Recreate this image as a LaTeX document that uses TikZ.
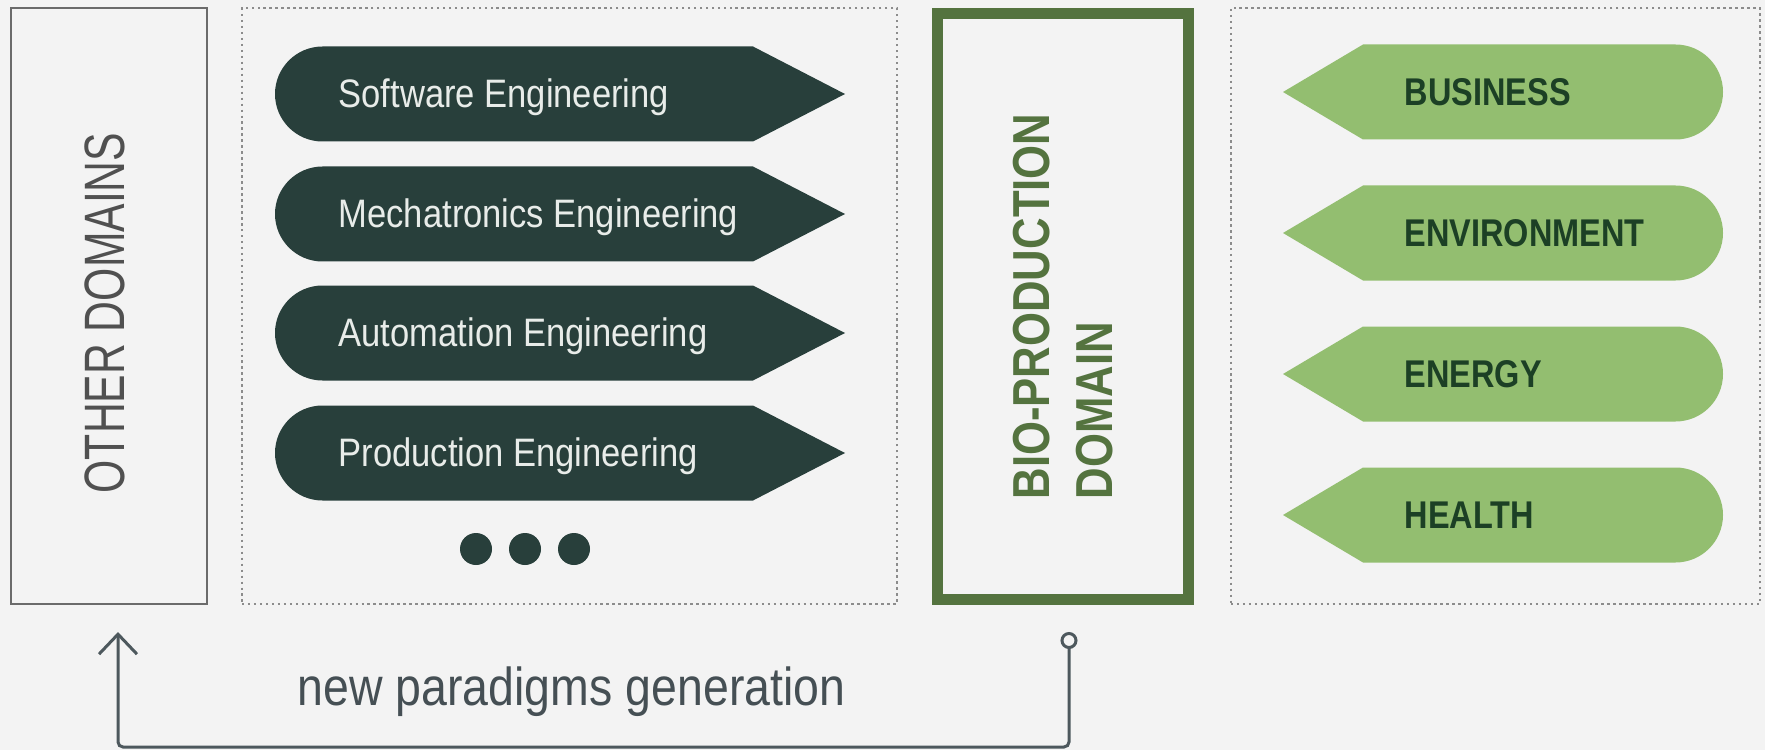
\documentclass[tikz,border=0pt]{standalone}
\usepackage{fontspec}
\setmainfont{Liberation Sans}
\newfontfamily\thinfont{Liberation Sans}[FakeStretch=0.87]
\newfontfamily\capsfont{Liberation Sans}[FakeStretch=0.75]
\newfontfamily\heavyfont{Liberation Sans}[FakeStretch=0.84]
\usetikzlibrary{arrows.meta}
\definecolor{bgcol}{HTML}{F3F3F3}
\definecolor{engfill}{HTML}{283F3B}
\definecolor{engtext}{HTML}{E8ECE9}
\definecolor{areafill}{HTML}{93BE70}
\definecolor{areatext}{HTML}{1C4025}
\definecolor{bioframe}{HTML}{54733F}
\definecolor{boxline}{HTML}{6B6B6B}
\definecolor{othertext}{HTML}{505050}
\definecolor{dotline}{HTML}{8C8C8C}
\definecolor{loopline}{HTML}{4D585D}
\tikzset{
  dotbox/.style={draw=dotline, line width=0.55pt, dash pattern=on 0.7pt off 1pt, minimum height=59.6mm},
  englabel/.style={anchor=base west, inner sep=0pt, text=engtext, font=\thinfont\fontsize{11.3}{13}\selectfont},
  arealabel/.style={anchor=base west, inner sep=0pt, text=areatext, font=\heavyfont\bfseries\fontsize{11}{13}\selectfont},
  feedback/.style={draw=loopline, line width=0.3mm, rounded corners=0.5mm,
    {Circle[open,length=1.7mm]}-{Straight Barb[length=2mm,width=3.8mm]}}
}

\begin{document}
\begin{tikzpicture}[x=0.1mm,y=-0.1mm]
  \useasboundingbox (0,0) rectangle (1765,750);
  \fill[bgcol] (0,0) rectangle (1765,750);
  % frames
  \node[draw=boxline, line width=0.7pt, rotate=90, minimum width=59.6mm, minimum height=19.6mm] (other) at (109,306) {};
  \node[rotate=90, inner sep=0pt, text=othertext, font=\capsfont\fontsize{16.2}{18}\selectfont]
    (othername) at (105,313) {OTHER DOMAINS};
  \node[dotbox, minimum width=65.5mm] (fields) at (569.5,306) {};
  \node[dotbox, minimum width=52.9mm] (areas) at (1495.5,306) {};
  \node[draw=bioframe, line width=3.1pt, rotate=90, minimum width=58.6mm, minimum height=25.1mm,
    align=left, text=bioframe, font=\heavyfont\bfseries\fontsize{14.8}{17.9}\selectfont]
    (bio) at (1063,306.5) {BIO-PRODUCTION\\DOMAIN};
  % engineering fields, pointing right
  \foreach \cy/\name/\txt in {94/soft/Software Engineering, 214/mech/Mechatronics Engineering,
      333/auto/Automation Engineering, 453/prod/Production Engineering} {
    \fill[engfill] (322.5,\cy-47.5) -- (753,\cy-47.5) -- (845,\cy) -- (753,\cy+47.5)
      -- (322.5,\cy+47.5) arc[start angle=90, end angle=270, radius=47.5] -- cycle;
    \node[englabel] (\name) at (338,\cy+13.5) {\txt};
  }
  \foreach \x in {476,525,574}
    \fill[engfill] (\x,549) circle[radius=16];
  % application areas, pointing left
  \foreach \cy/\name/\txt in {92/bus/BUSINESS, 233/env/ENVIRONMENT, 374/ener/ENERGY, 515/heal/HEALTH} {
    \fill[areafill] (1283,\cy) -- (1363,\cy-47.5) -- (1675.5,\cy-47.5)
      arc[start angle=-90, end angle=90, radius=47.5] -- (1363,\cy+47.5) -- cycle;
    \node[arealabel] (\name) at (1404,\cy+13.5) {\txt};
  }
  % feedback loop
  \coordinate (loopout) at (1069,632);
  \coordinate (loopin) at (118,632);
  \draw[feedback] (loopout) -- ++(0,115) -| (loopin);
  \node[anchor=base west, inner sep=0pt, text=loopline!90!black, font=\thinfont\fontsize{15.2}{17}\selectfont]
    (loopnote) at (297,705) {new paradigms generation};
\end{tikzpicture}
\end{document}
